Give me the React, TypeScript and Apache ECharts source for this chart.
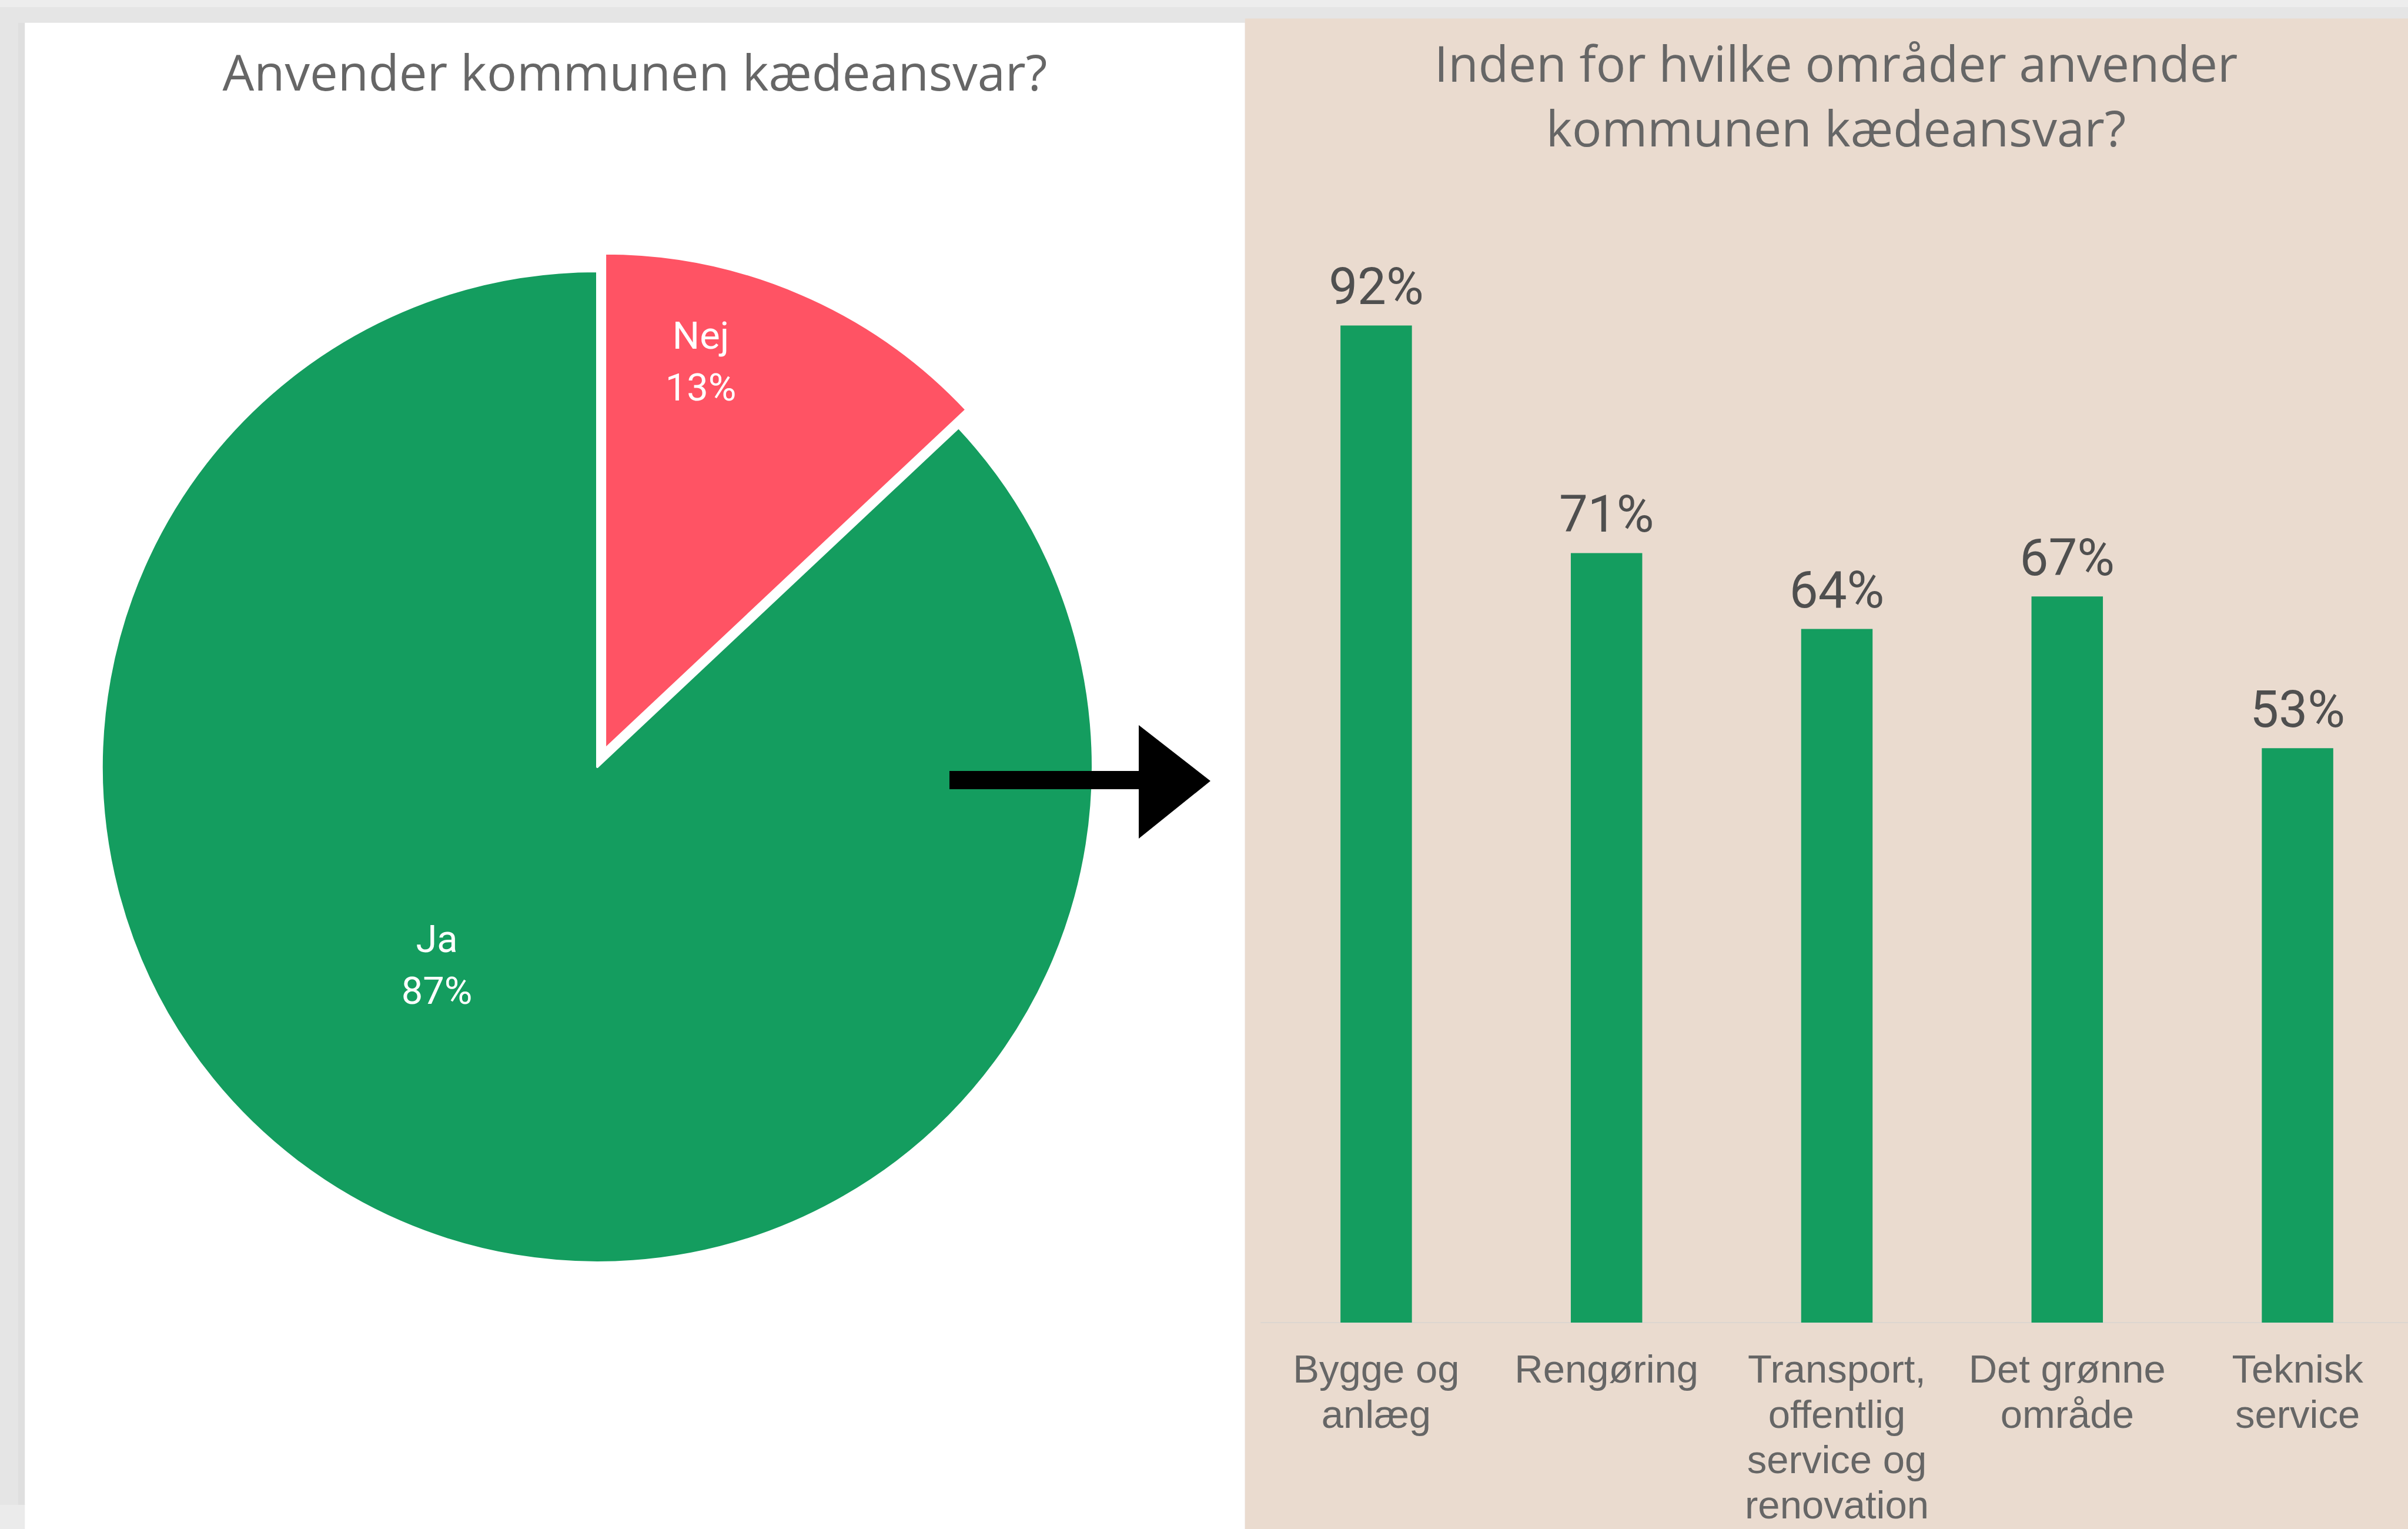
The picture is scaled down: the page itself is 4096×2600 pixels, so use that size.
import React, { useEffect, useRef } from "react";
import * as echarts from "echarts";

// ---- data ----
const pieNames = ["Nej", "Ja"];
const pieValues = [13, 87];
const pieColors = ["#FF5364", "#149D5F"];

const categories = [
  "Bygge og\nanlæg",
  "Rengøring",
  "Transport,\noffentlig\nservice og\nrenovation",
  "Det grønne\nområde",
  "Teknisk\nservice",
];
const barValues = [92, 71, 64, 67, 53];

const leftTitle = "Anvender kommunen kædeansvar?";
const rightTitle = "Inden for hvilke områder anvender\nkommunen kædeansvar?";

const W = 4096;
const H = 2600;
const CW = 4120; // chart canvas slightly wider than the window (the bar grid runs past the right edge)

// pie geometry (layout)
const PIE_CX = 1016;
const PIE_CY = 1304;
const PIE_R = 843;
const EXPLODE = 33;

// label anchor points for pie labels (layout, not data)
const pieLabelPos = [
  [1192, 615],
  [743, 1641],
];

export default function App() {
  const ref = useRef<HTMLDivElement>(null);

  useEffect(() => {
    if (!ref.current) return;
    const chart = echarts.init(ref.current, undefined, { renderer: "svg" });

    const total = pieValues.reduce((a, b) => a + b, 0);
    const midDeg = 90 - (360 * pieValues[0]) / total / 2;
    const midRad = (midDeg * Math.PI) / 180;
    const offX = EXPLODE * Math.cos(midRad);
    const offY = -EXPLODE * Math.sin(midRad);

    const transparent = "rgba(0,0,0,0)";
    const pieLabel = {
      show: true,
      position: "inside",
      color: "#ffffff",
      fontFamily: "Roboto",
      fontSize: 65,
      lineHeight: 88,
      formatter: (p: any) => `${p.name}\n${p.value}%`,
    };
    const makePieData = (visibleIndex: number) =>
      pieNames.map((n, i) => ({
        name: n,
        value: pieValues[i],
        itemStyle:
          i === visibleIndex
            ? { color: pieColors[i], borderColor: "#ffffff", borderWidth: 4 }
            : { color: transparent, borderWidth: 0 },
        label: i === visibleIndex ? {} : { show: false },
      }));
    const pieLayout = (p: any) => ({
      x: pieLabelPos[p.dataIndex][0],
      y: pieLabelPos[p.dataIndex][1],
      align: "center",
      verticalAlign: "middle",
    });

    const option: any = {
      animation: false,
      tooltip: { show: false },
      graphic: [
        { type: "rect", z: -10, shape: { x: 0, y: 0, width: CW, height: 12 }, style: { fill: "#ededed" }, silent: true },
        { type: "rect", z: -10, shape: { x: 31, y: 39, width: 11.5, height: 2520 }, style: { fill: "#dfdfdf" }, silent: true },
        { type: "rect", z: -10, shape: { x: 0, y: 2559, width: 42.5, height: 41 }, style: { fill: "#ebebeb" }, silent: true },
        { type: "rect", z: -9, shape: { x: 42.3, y: 38.7, width: 2117.7 - 42.3, height: H }, style: { fill: "#ffffff" }, silent: true },
        { type: "rect", z: -9, shape: { x: 2117.7, y: 31.5, width: CW - 2117.7, height: H }, style: { fill: "#EADBCF" }, silent: true },
        {
          type: "text",
          z: 50,
          x: 1080,
          y: 121,
          style: {
            text: leftTitle,
            fontFamily: "Open Sans",
            fontSize: 85,
            fill: "#666666",
            align: "center",
            verticalAlign: "middle",
            lineHeight: 110,
          },
        },
        {
          type: "text",
          z: 50,
          x: 3123,
          y: 161,
          style: {
            text: rightTitle,
            fontFamily: "Open Sans",
            fontSize: 84,
            fill: "#666666",
            align: "center",
            verticalAlign: "middle",
            lineHeight: 110,
          },
        },
        {
          type: "polygon",
          z: 100,
          shape: {
            points: [
              [1615, 1311],
              [1937, 1311],
              [1937, 1233],
              [2059, 1328],
              [1937, 1426],
              [1937, 1342],
              [1615, 1342],
            ],
          },
          style: { fill: "#000000" },
          silent: true,
        },
      ],
      grid: {
        left: 2145,
        top: 406,
        width: 1959,
        bottom: 351,
        containLabel: false,
      },
      xAxis: {
        type: "category",
        data: categories,
        axisLine: { show: true, lineStyle: { color: "#dcd6d0", width: 2 } },
        axisTick: { show: false },
        axisLabel: {
          interval: 0,
          margin: 40,
          fontFamily: "Liberation Sans",
          fontSize: 67,
          lineHeight: 77,
          color: "#666666",
          align: "center",
        },
      },
      yAxis: {
        type: "value",
        min: 0,
        max: 100,
        show: false,
        splitLine: { show: false },
      },
      series: [
        {
          type: "pie",
          z: 2,
          center: [PIE_CX, PIE_CY],
          radius: PIE_R,
          startAngle: 90,
          clockwise: true,
          avoidLabelOverlap: false,
          emphasis: { disabled: true },
          label: pieLabel,
          labelLine: { show: false },
          labelLayout: pieLayout,
          data: makePieData(1),
        },
        {
          type: "pie",
          z: 3,
          center: [PIE_CX + offX, PIE_CY + offY],
          radius: PIE_R,
          startAngle: 90,
          clockwise: true,
          avoidLabelOverlap: false,
          emphasis: { disabled: true },
          label: pieLabel,
          labelLine: { show: false },
          labelLayout: pieLayout,
          data: makePieData(0),
        },
        {
          type: "bar",
          data: barValues,
          barWidth: 121.5,
          itemStyle: { color: "#149D5F" },
          emphasis: { disabled: true },
          label: {
            show: true,
            position: "top",
            distance: 23,
            fontFamily: "Roboto",
            fontSize: 87,
            lineHeight: 87,
            color: "#4f4f4f",
            formatter: (p: any) => `${p.value}%`,
          },
        },
      ],
    };

    chart.setOption(option);
    return () => chart.dispose();
  }, []);

  return (
    <div style={{ position: "fixed", left: 0, top: 0, width: W, height: H, background: "#e5e5e5", overflow: "hidden" }}>
      <div ref={ref} style={{ width: CW, height: H }} />
    </div>
  );
}
